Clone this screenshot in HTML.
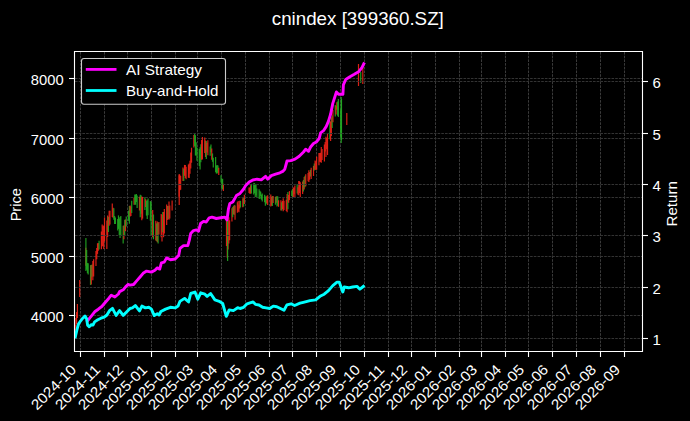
<!DOCTYPE html>
<html><head><meta charset="utf-8"><style>
html,body{margin:0;padding:0;background:#000;width:690px;height:421px;overflow:hidden;}
svg{display:block;font-family:"Liberation Sans",sans-serif;}
</style></head><body>
<svg width="690" height="421" viewBox="0 0 690 421">
<rect width="690" height="421" fill="#000"/>
<line x1="80.5" y1="52" x2="80.5" y2="351" stroke="#3a3a3a" stroke-width="1" stroke-dasharray="2.6,1.1"/>
<line x1="104.5" y1="52" x2="104.5" y2="351" stroke="#3a3a3a" stroke-width="1" stroke-dasharray="2.6,1.1"/>
<line x1="127.5" y1="52" x2="127.5" y2="351" stroke="#3a3a3a" stroke-width="1" stroke-dasharray="2.6,1.1"/>
<line x1="151.5" y1="52" x2="151.5" y2="351" stroke="#3a3a3a" stroke-width="1" stroke-dasharray="2.6,1.1"/>
<line x1="175.5" y1="52" x2="175.5" y2="351" stroke="#3a3a3a" stroke-width="1" stroke-dasharray="2.6,1.1"/>
<line x1="197.5" y1="52" x2="197.5" y2="351" stroke="#3a3a3a" stroke-width="1" stroke-dasharray="2.6,1.1"/>
<line x1="221.5" y1="52" x2="221.5" y2="351" stroke="#3a3a3a" stroke-width="1" stroke-dasharray="2.6,1.1"/>
<line x1="245.5" y1="52" x2="245.5" y2="351" stroke="#3a3a3a" stroke-width="1" stroke-dasharray="2.6,1.1"/>
<line x1="269.5" y1="52" x2="269.5" y2="351" stroke="#3a3a3a" stroke-width="1" stroke-dasharray="2.6,1.1"/>
<line x1="292.5" y1="52" x2="292.5" y2="351" stroke="#3a3a3a" stroke-width="1" stroke-dasharray="2.6,1.1"/>
<line x1="316.5" y1="52" x2="316.5" y2="351" stroke="#3a3a3a" stroke-width="1" stroke-dasharray="2.6,1.1"/>
<line x1="340.5" y1="52" x2="340.5" y2="351" stroke="#3a3a3a" stroke-width="1" stroke-dasharray="2.6,1.1"/>
<line x1="364.5" y1="52" x2="364.5" y2="351" stroke="#3a3a3a" stroke-width="1" stroke-dasharray="2.6,1.1"/>
<line x1="388.5" y1="52" x2="388.5" y2="351" stroke="#3a3a3a" stroke-width="1" stroke-dasharray="2.6,1.1"/>
<line x1="411.5" y1="52" x2="411.5" y2="351" stroke="#3a3a3a" stroke-width="1" stroke-dasharray="2.6,1.1"/>
<line x1="435.5" y1="52" x2="435.5" y2="351" stroke="#3a3a3a" stroke-width="1" stroke-dasharray="2.6,1.1"/>
<line x1="459.5" y1="52" x2="459.5" y2="351" stroke="#3a3a3a" stroke-width="1" stroke-dasharray="2.6,1.1"/>
<line x1="481.5" y1="52" x2="481.5" y2="351" stroke="#3a3a3a" stroke-width="1" stroke-dasharray="2.6,1.1"/>
<line x1="505.5" y1="52" x2="505.5" y2="351" stroke="#3a3a3a" stroke-width="1" stroke-dasharray="2.6,1.1"/>
<line x1="528.5" y1="52" x2="528.5" y2="351" stroke="#3a3a3a" stroke-width="1" stroke-dasharray="2.6,1.1"/>
<line x1="552.5" y1="52" x2="552.5" y2="351" stroke="#3a3a3a" stroke-width="1" stroke-dasharray="2.6,1.1"/>
<line x1="576.5" y1="52" x2="576.5" y2="351" stroke="#3a3a3a" stroke-width="1" stroke-dasharray="2.6,1.1"/>
<line x1="600.5" y1="52" x2="600.5" y2="351" stroke="#3a3a3a" stroke-width="1" stroke-dasharray="2.6,1.1"/>
<line x1="624.5" y1="52" x2="624.5" y2="351" stroke="#3a3a3a" stroke-width="1" stroke-dasharray="2.6,1.1"/>
<line x1="75" y1="315.5" x2="642" y2="315.5" stroke="#333333" stroke-width="1" stroke-dasharray="2.6,1.1"/>
<line x1="75" y1="256.5" x2="642" y2="256.5" stroke="#333333" stroke-width="1" stroke-dasharray="2.6,1.1"/>
<line x1="75" y1="197.5" x2="642" y2="197.5" stroke="#333333" stroke-width="1" stroke-dasharray="2.6,1.1"/>
<line x1="75" y1="138.5" x2="642" y2="138.5" stroke="#333333" stroke-width="1" stroke-dasharray="2.6,1.1"/>
<line x1="75" y1="78.5" x2="642" y2="78.5" stroke="#333333" stroke-width="1" stroke-dasharray="2.6,1.1"/>
<clipPath id="clip"><rect x="75" y="52" width="567" height="299"/></clipPath>
<g clip-path="url(#clip)">
<line x1="85.86" y1="247.8" x2="85.86" y2="265.8" stroke="#f02418" stroke-width="1.2" stroke-opacity="0.9"/>
<line x1="86.64" y1="250.0" x2="86.64" y2="269.8" stroke="#22a822" stroke-width="1.2" stroke-opacity="0.9"/>
<line x1="87.41" y1="263.1" x2="87.41" y2="273.3" stroke="#22a822" stroke-width="1.2" stroke-opacity="0.9"/>
<line x1="88.19" y1="263.3" x2="88.19" y2="274.4" stroke="#22a822" stroke-width="1.2" stroke-opacity="0.9"/>
<line x1="90.52" y1="265.1" x2="90.52" y2="285.0" stroke="#22a822" stroke-width="1.2" stroke-opacity="0.9"/>
<line x1="91.30" y1="265.1" x2="91.30" y2="284.5" stroke="#f02418" stroke-width="1.2" stroke-opacity="0.9"/>
<line x1="92.08" y1="264.4" x2="92.08" y2="276.8" stroke="#22a822" stroke-width="1.2" stroke-opacity="0.9"/>
<line x1="92.85" y1="260.9" x2="92.85" y2="280.2" stroke="#f02418" stroke-width="1.2" stroke-opacity="0.9"/>
<line x1="93.63" y1="259.2" x2="93.63" y2="276.5" stroke="#f02418" stroke-width="1.2" stroke-opacity="0.9"/>
<line x1="95.96" y1="251.0" x2="95.96" y2="266.0" stroke="#f02418" stroke-width="1.2" stroke-opacity="0.9"/>
<line x1="96.74" y1="247.9" x2="96.74" y2="259.2" stroke="#f02418" stroke-width="1.2" stroke-opacity="0.9"/>
<line x1="97.51" y1="243.3" x2="97.51" y2="253.9" stroke="#f02418" stroke-width="1.2" stroke-opacity="0.9"/>
<line x1="98.29" y1="243.1" x2="98.29" y2="250.7" stroke="#f02418" stroke-width="1.2" stroke-opacity="0.9"/>
<line x1="99.07" y1="240.7" x2="99.07" y2="249.5" stroke="#22a822" stroke-width="1.2" stroke-opacity="0.9"/>
<line x1="101.40" y1="231.6" x2="101.40" y2="249.3" stroke="#f02418" stroke-width="1.2" stroke-opacity="0.9"/>
<line x1="102.18" y1="224.5" x2="102.18" y2="246.3" stroke="#f02418" stroke-width="1.2" stroke-opacity="0.9"/>
<line x1="102.95" y1="226.2" x2="102.95" y2="246.2" stroke="#f02418" stroke-width="1.2" stroke-opacity="0.9"/>
<line x1="103.73" y1="225.6" x2="103.73" y2="249.0" stroke="#f02418" stroke-width="1.2" stroke-opacity="0.9"/>
<line x1="104.51" y1="217.5" x2="104.51" y2="241.4" stroke="#f02418" stroke-width="1.2" stroke-opacity="0.9"/>
<line x1="106.84" y1="220.5" x2="106.84" y2="249.0" stroke="#f02418" stroke-width="1.2" stroke-opacity="0.9"/>
<line x1="107.62" y1="215.4" x2="107.62" y2="237.0" stroke="#f02418" stroke-width="1.2" stroke-opacity="0.9"/>
<line x1="108.39" y1="216.8" x2="108.39" y2="232.1" stroke="#22a822" stroke-width="1.2" stroke-opacity="0.9"/>
<line x1="109.17" y1="210.7" x2="109.17" y2="225.8" stroke="#f02418" stroke-width="1.2" stroke-opacity="0.9"/>
<line x1="109.95" y1="210.8" x2="109.95" y2="224.4" stroke="#f02418" stroke-width="1.2" stroke-opacity="0.9"/>
<line x1="112.28" y1="203.6" x2="112.28" y2="216.9" stroke="#f02418" stroke-width="1.2" stroke-opacity="0.9"/>
<line x1="113.05" y1="207.8" x2="113.05" y2="217.8" stroke="#f02418" stroke-width="1.2" stroke-opacity="0.9"/>
<line x1="113.83" y1="208.2" x2="113.83" y2="219.8" stroke="#22a822" stroke-width="1.2" stroke-opacity="0.9"/>
<line x1="114.61" y1="215.9" x2="114.61" y2="223.9" stroke="#22a822" stroke-width="1.2" stroke-opacity="0.9"/>
<line x1="115.39" y1="217.6" x2="115.39" y2="224.0" stroke="#22a822" stroke-width="1.2" stroke-opacity="0.9"/>
<line x1="117.72" y1="219.1" x2="117.72" y2="230.5" stroke="#22a822" stroke-width="1.2" stroke-opacity="0.9"/>
<line x1="118.49" y1="215.4" x2="118.49" y2="228.9" stroke="#22a822" stroke-width="1.2" stroke-opacity="0.9"/>
<line x1="119.27" y1="218.5" x2="119.27" y2="235.1" stroke="#22a822" stroke-width="1.2" stroke-opacity="0.9"/>
<line x1="120.05" y1="217.1" x2="120.05" y2="237.9" stroke="#22a822" stroke-width="1.2" stroke-opacity="0.9"/>
<line x1="120.82" y1="216.1" x2="120.82" y2="235.2" stroke="#22a822" stroke-width="1.2" stroke-opacity="0.9"/>
<line x1="123.16" y1="225.7" x2="123.16" y2="243.4" stroke="#22a822" stroke-width="1.2" stroke-opacity="0.9"/>
<line x1="123.93" y1="225.6" x2="123.93" y2="239.2" stroke="#f02418" stroke-width="1.2" stroke-opacity="0.9"/>
<line x1="124.71" y1="219.8" x2="124.71" y2="235.6" stroke="#22a822" stroke-width="1.2" stroke-opacity="0.9"/>
<line x1="125.49" y1="219.5" x2="125.49" y2="231.2" stroke="#f02418" stroke-width="1.2" stroke-opacity="0.9"/>
<line x1="126.26" y1="216.6" x2="126.26" y2="226.6" stroke="#22a822" stroke-width="1.2" stroke-opacity="0.9"/>
<line x1="128.59" y1="210.7" x2="128.59" y2="220.9" stroke="#22a822" stroke-width="1.2" stroke-opacity="0.9"/>
<line x1="129.37" y1="206.1" x2="129.37" y2="223.7" stroke="#22a822" stroke-width="1.2" stroke-opacity="0.9"/>
<line x1="130.15" y1="205.4" x2="130.15" y2="216.4" stroke="#f02418" stroke-width="1.2" stroke-opacity="0.9"/>
<line x1="130.93" y1="206.6" x2="130.93" y2="216.0" stroke="#f02418" stroke-width="1.2" stroke-opacity="0.9"/>
<line x1="131.70" y1="200.7" x2="131.70" y2="213.0" stroke="#22a822" stroke-width="1.2" stroke-opacity="0.9"/>
<line x1="134.03" y1="197.5" x2="134.03" y2="204.7" stroke="#f02418" stroke-width="1.2" stroke-opacity="0.9"/>
<line x1="134.81" y1="194.4" x2="134.81" y2="204.8" stroke="#22a822" stroke-width="1.2" stroke-opacity="0.9"/>
<line x1="135.59" y1="194.6" x2="135.59" y2="204.7" stroke="#22a822" stroke-width="1.2" stroke-opacity="0.9"/>
<line x1="136.36" y1="193.9" x2="136.36" y2="202.1" stroke="#22a822" stroke-width="1.2" stroke-opacity="0.9"/>
<line x1="137.14" y1="195.6" x2="137.14" y2="208.1" stroke="#22a822" stroke-width="1.2" stroke-opacity="0.9"/>
<line x1="139.47" y1="196.7" x2="139.47" y2="210.5" stroke="#f02418" stroke-width="1.2" stroke-opacity="0.9"/>
<line x1="140.25" y1="194.8" x2="140.25" y2="217.3" stroke="#22a822" stroke-width="1.2" stroke-opacity="0.9"/>
<line x1="141.03" y1="195.3" x2="141.03" y2="213.7" stroke="#22a822" stroke-width="1.2" stroke-opacity="0.9"/>
<line x1="141.80" y1="196.4" x2="141.80" y2="220.3" stroke="#f02418" stroke-width="1.2" stroke-opacity="0.9"/>
<line x1="142.58" y1="197.0" x2="142.58" y2="218.6" stroke="#f02418" stroke-width="1.2" stroke-opacity="0.9"/>
<line x1="144.91" y1="197.3" x2="144.91" y2="210.1" stroke="#22a822" stroke-width="1.2" stroke-opacity="0.9"/>
<line x1="145.69" y1="199.3" x2="145.69" y2="206.9" stroke="#f02418" stroke-width="1.2" stroke-opacity="0.9"/>
<line x1="146.47" y1="200.7" x2="146.47" y2="215.6" stroke="#22a822" stroke-width="1.2" stroke-opacity="0.9"/>
<line x1="147.24" y1="200.3" x2="147.24" y2="218.9" stroke="#22a822" stroke-width="1.2" stroke-opacity="0.9"/>
<line x1="148.02" y1="198.6" x2="148.02" y2="215.2" stroke="#22a822" stroke-width="1.2" stroke-opacity="0.9"/>
<line x1="150.35" y1="200.9" x2="150.35" y2="220.7" stroke="#22a822" stroke-width="1.2" stroke-opacity="0.9"/>
<line x1="151.13" y1="202.0" x2="151.13" y2="235.3" stroke="#22a822" stroke-width="1.2" stroke-opacity="0.9"/>
<line x1="152.68" y1="210.1" x2="152.68" y2="237.3" stroke="#f02418" stroke-width="1.2" stroke-opacity="0.9"/>
<line x1="153.46" y1="214.5" x2="153.46" y2="239.3" stroke="#22a822" stroke-width="1.2" stroke-opacity="0.9"/>
<line x1="155.79" y1="220.8" x2="155.79" y2="240.5" stroke="#f02418" stroke-width="1.2" stroke-opacity="0.9"/>
<line x1="156.57" y1="223.4" x2="156.57" y2="241.2" stroke="#22a822" stroke-width="1.2" stroke-opacity="0.9"/>
<line x1="157.34" y1="221.6" x2="157.34" y2="242.3" stroke="#f02418" stroke-width="1.2" stroke-opacity="0.9"/>
<line x1="158.12" y1="222.5" x2="158.12" y2="243.4" stroke="#22a822" stroke-width="1.2" stroke-opacity="0.9"/>
<line x1="158.90" y1="222.0" x2="158.90" y2="234.6" stroke="#f02418" stroke-width="1.2" stroke-opacity="0.9"/>
<line x1="161.23" y1="214.1" x2="161.23" y2="237.2" stroke="#f02418" stroke-width="1.2" stroke-opacity="0.9"/>
<line x1="162.00" y1="214.9" x2="162.00" y2="241.4" stroke="#f02418" stroke-width="1.2" stroke-opacity="0.9"/>
<line x1="162.78" y1="212.0" x2="162.78" y2="232.3" stroke="#22a822" stroke-width="1.2" stroke-opacity="0.9"/>
<line x1="163.56" y1="212.0" x2="163.56" y2="237.2" stroke="#f02418" stroke-width="1.2" stroke-opacity="0.9"/>
<line x1="164.34" y1="209.1" x2="164.34" y2="233.4" stroke="#f02418" stroke-width="1.2" stroke-opacity="0.9"/>
<line x1="166.67" y1="204.4" x2="166.67" y2="224.9" stroke="#f02418" stroke-width="1.2" stroke-opacity="0.9"/>
<line x1="167.44" y1="205.9" x2="167.44" y2="219.9" stroke="#f02418" stroke-width="1.2" stroke-opacity="0.9"/>
<line x1="168.22" y1="206.0" x2="168.22" y2="219.0" stroke="#22a822" stroke-width="1.2" stroke-opacity="0.9"/>
<line x1="169.00" y1="201.6" x2="169.00" y2="219.7" stroke="#f02418" stroke-width="1.2" stroke-opacity="0.9"/>
<line x1="169.78" y1="205.5" x2="169.78" y2="218.6" stroke="#f02418" stroke-width="1.2" stroke-opacity="0.9"/>
<line x1="172.11" y1="200.4" x2="172.11" y2="210.4" stroke="#f02418" stroke-width="1.2" stroke-opacity="0.9"/>
<line x1="179.10" y1="175.2" x2="179.10" y2="196.8" stroke="#f02418" stroke-width="1.2" stroke-opacity="0.9"/>
<line x1="179.88" y1="174.7" x2="179.88" y2="190.2" stroke="#f02418" stroke-width="1.2" stroke-opacity="0.9"/>
<line x1="180.65" y1="176.0" x2="180.65" y2="189.7" stroke="#f02418" stroke-width="1.2" stroke-opacity="0.9"/>
<line x1="182.98" y1="167.6" x2="182.98" y2="181.1" stroke="#f02418" stroke-width="1.2" stroke-opacity="0.9"/>
<line x1="183.76" y1="168.7" x2="183.76" y2="180.9" stroke="#22a822" stroke-width="1.2" stroke-opacity="0.9"/>
<line x1="184.54" y1="164.9" x2="184.54" y2="175.8" stroke="#f02418" stroke-width="1.2" stroke-opacity="0.9"/>
<line x1="185.31" y1="165.0" x2="185.31" y2="177.9" stroke="#f02418" stroke-width="1.2" stroke-opacity="0.9"/>
<line x1="186.09" y1="166.7" x2="186.09" y2="179.3" stroke="#f02418" stroke-width="1.2" stroke-opacity="0.9"/>
<line x1="188.42" y1="164.5" x2="188.42" y2="177.7" stroke="#f02418" stroke-width="1.2" stroke-opacity="0.9"/>
<line x1="189.20" y1="163.6" x2="189.20" y2="177.9" stroke="#f02418" stroke-width="1.2" stroke-opacity="0.9"/>
<line x1="189.98" y1="160.8" x2="189.98" y2="173.8" stroke="#f02418" stroke-width="1.2" stroke-opacity="0.9"/>
<line x1="190.75" y1="152.5" x2="190.75" y2="168.5" stroke="#f02418" stroke-width="1.2" stroke-opacity="0.9"/>
<line x1="191.53" y1="147.7" x2="191.53" y2="162.7" stroke="#f02418" stroke-width="1.2" stroke-opacity="0.9"/>
<line x1="193.86" y1="135.1" x2="193.86" y2="147.6" stroke="#f02418" stroke-width="1.2" stroke-opacity="0.9"/>
<line x1="194.64" y1="133.8" x2="194.64" y2="146.2" stroke="#22a822" stroke-width="1.2" stroke-opacity="0.9"/>
<line x1="195.42" y1="135.2" x2="195.42" y2="155.5" stroke="#22a822" stroke-width="1.2" stroke-opacity="0.9"/>
<line x1="196.19" y1="142.2" x2="196.19" y2="155.6" stroke="#22a822" stroke-width="1.2" stroke-opacity="0.9"/>
<line x1="196.97" y1="147.6" x2="196.97" y2="160.7" stroke="#22a822" stroke-width="1.2" stroke-opacity="0.9"/>
<line x1="199.30" y1="149.0" x2="199.30" y2="165.9" stroke="#22a822" stroke-width="1.2" stroke-opacity="0.9"/>
<line x1="200.08" y1="147.3" x2="200.08" y2="169.6" stroke="#22a822" stroke-width="1.2" stroke-opacity="0.9"/>
<line x1="200.86" y1="144.2" x2="200.86" y2="162.2" stroke="#22a822" stroke-width="1.2" stroke-opacity="0.9"/>
<line x1="201.63" y1="140.1" x2="201.63" y2="159.7" stroke="#f02418" stroke-width="1.2" stroke-opacity="0.9"/>
<line x1="202.41" y1="137.0" x2="202.41" y2="159.4" stroke="#f02418" stroke-width="1.2" stroke-opacity="0.9"/>
<line x1="204.74" y1="137.5" x2="204.74" y2="152.9" stroke="#f02418" stroke-width="1.2" stroke-opacity="0.9"/>
<line x1="205.52" y1="140.5" x2="205.52" y2="157.0" stroke="#f02418" stroke-width="1.2" stroke-opacity="0.9"/>
<line x1="206.29" y1="140.9" x2="206.29" y2="159.0" stroke="#22a822" stroke-width="1.2" stroke-opacity="0.9"/>
<line x1="207.07" y1="142.7" x2="207.07" y2="152.4" stroke="#f02418" stroke-width="1.2" stroke-opacity="0.9"/>
<line x1="207.85" y1="140.3" x2="207.85" y2="155.3" stroke="#f02418" stroke-width="1.2" stroke-opacity="0.9"/>
<line x1="210.18" y1="146.5" x2="210.18" y2="155.8" stroke="#22a822" stroke-width="1.2" stroke-opacity="0.9"/>
<line x1="210.96" y1="144.5" x2="210.96" y2="152.2" stroke="#22a822" stroke-width="1.2" stroke-opacity="0.9"/>
<line x1="211.73" y1="148.4" x2="211.73" y2="159.8" stroke="#f02418" stroke-width="1.2" stroke-opacity="0.9"/>
<line x1="212.51" y1="153.4" x2="212.51" y2="161.8" stroke="#22a822" stroke-width="1.2" stroke-opacity="0.9"/>
<line x1="213.29" y1="157.8" x2="213.29" y2="167.5" stroke="#22a822" stroke-width="1.2" stroke-opacity="0.9"/>
<line x1="215.62" y1="157.1" x2="215.62" y2="172.2" stroke="#22a822" stroke-width="1.2" stroke-opacity="0.9"/>
<line x1="216.39" y1="165.6" x2="216.39" y2="173.5" stroke="#22a822" stroke-width="1.2" stroke-opacity="0.9"/>
<line x1="217.17" y1="164.9" x2="217.17" y2="173.6" stroke="#22a822" stroke-width="1.2" stroke-opacity="0.9"/>
<line x1="217.95" y1="165.6" x2="217.95" y2="172.7" stroke="#22a822" stroke-width="1.2" stroke-opacity="0.9"/>
<line x1="218.73" y1="167.7" x2="218.73" y2="175.1" stroke="#f02418" stroke-width="1.2" stroke-opacity="0.9"/>
<line x1="221.06" y1="175.2" x2="221.06" y2="182.6" stroke="#22a822" stroke-width="1.2" stroke-opacity="0.9"/>
<line x1="221.83" y1="179.3" x2="221.83" y2="188.9" stroke="#22a822" stroke-width="1.2" stroke-opacity="0.9"/>
<line x1="222.61" y1="178.7" x2="222.61" y2="189.6" stroke="#22a822" stroke-width="1.2" stroke-opacity="0.9"/>
<line x1="223.39" y1="183.8" x2="223.39" y2="190.9" stroke="#f02418" stroke-width="1.2" stroke-opacity="0.9"/>
<line x1="226.50" y1="218.2" x2="226.50" y2="246.1" stroke="#f02418" stroke-width="1.2" stroke-opacity="0.9"/>
<line x1="227.27" y1="231.9" x2="227.27" y2="257.8" stroke="#f02418" stroke-width="1.2" stroke-opacity="0.9"/>
<line x1="228.05" y1="220.3" x2="228.05" y2="249.5" stroke="#f02418" stroke-width="1.2" stroke-opacity="0.9"/>
<line x1="228.83" y1="217.2" x2="228.83" y2="243.4" stroke="#f02418" stroke-width="1.2" stroke-opacity="0.9"/>
<line x1="229.60" y1="220.2" x2="229.60" y2="240.2" stroke="#f02418" stroke-width="1.2" stroke-opacity="0.9"/>
<line x1="231.94" y1="208.2" x2="231.94" y2="221.4" stroke="#f02418" stroke-width="1.2" stroke-opacity="0.9"/>
<line x1="232.71" y1="207.1" x2="232.71" y2="217.3" stroke="#22a822" stroke-width="1.2" stroke-opacity="0.9"/>
<line x1="233.49" y1="206.1" x2="233.49" y2="214.4" stroke="#f02418" stroke-width="1.2" stroke-opacity="0.9"/>
<line x1="234.27" y1="205.1" x2="234.27" y2="214.8" stroke="#22a822" stroke-width="1.2" stroke-opacity="0.9"/>
<line x1="235.04" y1="205.4" x2="235.04" y2="219.8" stroke="#f02418" stroke-width="1.2" stroke-opacity="0.9"/>
<line x1="237.37" y1="202.3" x2="237.37" y2="212.8" stroke="#f02418" stroke-width="1.2" stroke-opacity="0.9"/>
<line x1="238.15" y1="200.9" x2="238.15" y2="211.5" stroke="#f02418" stroke-width="1.2" stroke-opacity="0.9"/>
<line x1="238.93" y1="204.6" x2="238.93" y2="212.3" stroke="#f02418" stroke-width="1.2" stroke-opacity="0.9"/>
<line x1="239.70" y1="200.7" x2="239.70" y2="208.5" stroke="#f02418" stroke-width="1.2" stroke-opacity="0.9"/>
<line x1="240.48" y1="200.9" x2="240.48" y2="207.4" stroke="#22a822" stroke-width="1.2" stroke-opacity="0.9"/>
<line x1="242.81" y1="198.2" x2="242.81" y2="207.3" stroke="#f02418" stroke-width="1.2" stroke-opacity="0.9"/>
<line x1="243.59" y1="198.1" x2="243.59" y2="206.6" stroke="#22a822" stroke-width="1.2" stroke-opacity="0.9"/>
<line x1="244.37" y1="194.8" x2="244.37" y2="203.9" stroke="#f02418" stroke-width="1.2" stroke-opacity="0.9"/>
<line x1="249.03" y1="187.6" x2="249.03" y2="193.0" stroke="#f02418" stroke-width="1.2" stroke-opacity="0.9"/>
<line x1="249.81" y1="187.6" x2="249.81" y2="193.7" stroke="#f02418" stroke-width="1.2" stroke-opacity="0.9"/>
<line x1="250.58" y1="185.3" x2="250.58" y2="193.7" stroke="#f02418" stroke-width="1.2" stroke-opacity="0.9"/>
<line x1="251.36" y1="184.0" x2="251.36" y2="193.6" stroke="#22a822" stroke-width="1.2" stroke-opacity="0.9"/>
<line x1="253.69" y1="183.3" x2="253.69" y2="194.4" stroke="#22a822" stroke-width="1.2" stroke-opacity="0.9"/>
<line x1="254.47" y1="183.1" x2="254.47" y2="193.2" stroke="#22a822" stroke-width="1.2" stroke-opacity="0.9"/>
<line x1="255.25" y1="184.6" x2="255.25" y2="196.9" stroke="#22a822" stroke-width="1.2" stroke-opacity="0.9"/>
<line x1="256.02" y1="184.3" x2="256.02" y2="195.2" stroke="#22a822" stroke-width="1.2" stroke-opacity="0.9"/>
<line x1="256.80" y1="188.4" x2="256.80" y2="197.3" stroke="#22a822" stroke-width="1.2" stroke-opacity="0.9"/>
<line x1="259.13" y1="189.2" x2="259.13" y2="198.7" stroke="#22a822" stroke-width="1.2" stroke-opacity="0.9"/>
<line x1="259.91" y1="190.8" x2="259.91" y2="199.1" stroke="#22a822" stroke-width="1.2" stroke-opacity="0.9"/>
<line x1="260.68" y1="191.7" x2="260.68" y2="196.3" stroke="#22a822" stroke-width="1.2" stroke-opacity="0.9"/>
<line x1="261.46" y1="194.6" x2="261.46" y2="199.7" stroke="#22a822" stroke-width="1.2" stroke-opacity="0.9"/>
<line x1="262.24" y1="193.6" x2="262.24" y2="201.5" stroke="#22a822" stroke-width="1.2" stroke-opacity="0.9"/>
<line x1="264.57" y1="194.8" x2="264.57" y2="202.3" stroke="#22a822" stroke-width="1.2" stroke-opacity="0.9"/>
<line x1="265.35" y1="196.7" x2="265.35" y2="205.7" stroke="#22a822" stroke-width="1.2" stroke-opacity="0.9"/>
<line x1="266.12" y1="195.8" x2="266.12" y2="204.3" stroke="#22a822" stroke-width="1.2" stroke-opacity="0.9"/>
<line x1="266.90" y1="196.5" x2="266.90" y2="203.1" stroke="#f02418" stroke-width="1.2" stroke-opacity="0.9"/>
<line x1="267.68" y1="195.3" x2="267.68" y2="204.9" stroke="#f02418" stroke-width="1.2" stroke-opacity="0.9"/>
<line x1="270.79" y1="194.5" x2="270.79" y2="206.6" stroke="#f02418" stroke-width="1.2" stroke-opacity="0.9"/>
<line x1="271.56" y1="196.7" x2="271.56" y2="205.7" stroke="#f02418" stroke-width="1.2" stroke-opacity="0.9"/>
<line x1="272.34" y1="196.1" x2="272.34" y2="206.0" stroke="#22a822" stroke-width="1.2" stroke-opacity="0.9"/>
<line x1="273.12" y1="196.1" x2="273.12" y2="202.9" stroke="#f02418" stroke-width="1.2" stroke-opacity="0.9"/>
<line x1="275.45" y1="196.8" x2="275.45" y2="204.7" stroke="#22a822" stroke-width="1.2" stroke-opacity="0.9"/>
<line x1="276.22" y1="196.5" x2="276.22" y2="202.7" stroke="#f02418" stroke-width="1.2" stroke-opacity="0.9"/>
<line x1="277.00" y1="196.0" x2="277.00" y2="206.4" stroke="#22a822" stroke-width="1.2" stroke-opacity="0.9"/>
<line x1="277.78" y1="196.6" x2="277.78" y2="205.7" stroke="#22a822" stroke-width="1.2" stroke-opacity="0.9"/>
<line x1="278.56" y1="200.3" x2="278.56" y2="206.8" stroke="#f02418" stroke-width="1.2" stroke-opacity="0.9"/>
<line x1="280.89" y1="200.3" x2="280.89" y2="210.6" stroke="#f02418" stroke-width="1.2" stroke-opacity="0.9"/>
<line x1="281.66" y1="202.3" x2="281.66" y2="210.5" stroke="#22a822" stroke-width="1.2" stroke-opacity="0.9"/>
<line x1="282.44" y1="201.0" x2="282.44" y2="209.2" stroke="#f02418" stroke-width="1.2" stroke-opacity="0.9"/>
<line x1="283.22" y1="198.2" x2="283.22" y2="211.2" stroke="#f02418" stroke-width="1.2" stroke-opacity="0.9"/>
<line x1="283.99" y1="200.8" x2="283.99" y2="210.0" stroke="#f02418" stroke-width="1.2" stroke-opacity="0.9"/>
<line x1="286.32" y1="199.7" x2="286.32" y2="210.9" stroke="#f02418" stroke-width="1.2" stroke-opacity="0.9"/>
<line x1="287.10" y1="194.1" x2="287.10" y2="212.2" stroke="#f02418" stroke-width="1.2" stroke-opacity="0.9"/>
<line x1="287.88" y1="192.0" x2="287.88" y2="209.2" stroke="#22a822" stroke-width="1.2" stroke-opacity="0.9"/>
<line x1="288.66" y1="195.1" x2="288.66" y2="202.8" stroke="#f02418" stroke-width="1.2" stroke-opacity="0.9"/>
<line x1="289.43" y1="191.1" x2="289.43" y2="200.1" stroke="#f02418" stroke-width="1.2" stroke-opacity="0.9"/>
<line x1="291.76" y1="190.5" x2="291.76" y2="196.1" stroke="#22a822" stroke-width="1.2" stroke-opacity="0.9"/>
<line x1="292.54" y1="188.9" x2="292.54" y2="197.0" stroke="#22a822" stroke-width="1.2" stroke-opacity="0.9"/>
<line x1="293.32" y1="187.4" x2="293.32" y2="197.0" stroke="#f02418" stroke-width="1.2" stroke-opacity="0.9"/>
<line x1="294.10" y1="187.4" x2="294.10" y2="194.2" stroke="#f02418" stroke-width="1.2" stroke-opacity="0.9"/>
<line x1="294.87" y1="185.4" x2="294.87" y2="197.0" stroke="#f02418" stroke-width="1.2" stroke-opacity="0.9"/>
<line x1="297.20" y1="184.0" x2="297.20" y2="193.6" stroke="#22a822" stroke-width="1.2" stroke-opacity="0.9"/>
<line x1="297.98" y1="187.2" x2="297.98" y2="194.7" stroke="#f02418" stroke-width="1.2" stroke-opacity="0.9"/>
<line x1="298.76" y1="181.1" x2="298.76" y2="195.2" stroke="#f02418" stroke-width="1.2" stroke-opacity="0.9"/>
<line x1="299.53" y1="181.3" x2="299.53" y2="193.0" stroke="#f02418" stroke-width="1.2" stroke-opacity="0.9"/>
<line x1="300.31" y1="182.3" x2="300.31" y2="197.0" stroke="#f02418" stroke-width="1.2" stroke-opacity="0.9"/>
<line x1="302.64" y1="181.4" x2="302.64" y2="194.0" stroke="#f02418" stroke-width="1.2" stroke-opacity="0.9"/>
<line x1="303.42" y1="179.9" x2="303.42" y2="191.5" stroke="#22a822" stroke-width="1.2" stroke-opacity="0.9"/>
<line x1="304.20" y1="177.0" x2="304.20" y2="189.6" stroke="#f02418" stroke-width="1.2" stroke-opacity="0.9"/>
<line x1="304.97" y1="175.8" x2="304.97" y2="187.2" stroke="#22a822" stroke-width="1.2" stroke-opacity="0.9"/>
<line x1="305.75" y1="174.2" x2="305.75" y2="186.2" stroke="#f02418" stroke-width="1.2" stroke-opacity="0.9"/>
<line x1="308.08" y1="173.0" x2="308.08" y2="181.3" stroke="#f02418" stroke-width="1.2" stroke-opacity="0.9"/>
<line x1="308.86" y1="170.2" x2="308.86" y2="182.0" stroke="#f02418" stroke-width="1.2" stroke-opacity="0.9"/>
<line x1="309.63" y1="172.0" x2="309.63" y2="179.8" stroke="#f02418" stroke-width="1.2" stroke-opacity="0.9"/>
<line x1="310.41" y1="169.8" x2="310.41" y2="176.6" stroke="#22a822" stroke-width="1.2" stroke-opacity="0.9"/>
<line x1="311.19" y1="167.7" x2="311.19" y2="179.0" stroke="#f02418" stroke-width="1.2" stroke-opacity="0.9"/>
<line x1="313.52" y1="165.8" x2="313.52" y2="176.0" stroke="#f02418" stroke-width="1.2" stroke-opacity="0.9"/>
<line x1="314.30" y1="163.4" x2="314.30" y2="170.4" stroke="#22a822" stroke-width="1.2" stroke-opacity="0.9"/>
<line x1="315.07" y1="160.5" x2="315.07" y2="169.4" stroke="#f02418" stroke-width="1.2" stroke-opacity="0.9"/>
<line x1="315.85" y1="161.2" x2="315.85" y2="169.9" stroke="#f02418" stroke-width="1.2" stroke-opacity="0.9"/>
<line x1="316.63" y1="156.8" x2="316.63" y2="169.8" stroke="#f02418" stroke-width="1.2" stroke-opacity="0.9"/>
<line x1="318.96" y1="152.9" x2="318.96" y2="165.3" stroke="#f02418" stroke-width="1.2" stroke-opacity="0.9"/>
<line x1="319.74" y1="153.1" x2="319.74" y2="161.7" stroke="#f02418" stroke-width="1.2" stroke-opacity="0.9"/>
<line x1="320.51" y1="152.8" x2="320.51" y2="162.1" stroke="#f02418" stroke-width="1.2" stroke-opacity="0.9"/>
<line x1="321.29" y1="147.0" x2="321.29" y2="162.8" stroke="#f02418" stroke-width="1.2" stroke-opacity="0.9"/>
<line x1="322.07" y1="149.1" x2="322.07" y2="159.9" stroke="#f02418" stroke-width="1.2" stroke-opacity="0.9"/>
<line x1="324.40" y1="144.5" x2="324.40" y2="161.5" stroke="#f02418" stroke-width="1.2" stroke-opacity="0.9"/>
<line x1="325.18" y1="142.0" x2="325.18" y2="151.6" stroke="#f02418" stroke-width="1.2" stroke-opacity="0.9"/>
<line x1="325.95" y1="136.7" x2="325.95" y2="157.1" stroke="#f02418" stroke-width="1.2" stroke-opacity="0.9"/>
<line x1="326.73" y1="138.1" x2="326.73" y2="149.2" stroke="#f02418" stroke-width="1.2" stroke-opacity="0.9"/>
<line x1="327.51" y1="133.2" x2="327.51" y2="155.0" stroke="#f02418" stroke-width="1.2" stroke-opacity="0.9"/>
<line x1="329.84" y1="120.9" x2="329.84" y2="139.2" stroke="#22a822" stroke-width="1.2" stroke-opacity="0.9"/>
<line x1="330.61" y1="121.4" x2="330.61" y2="140.9" stroke="#f02418" stroke-width="1.2" stroke-opacity="0.9"/>
<line x1="331.39" y1="117.2" x2="331.39" y2="135.9" stroke="#f02418" stroke-width="1.2" stroke-opacity="0.9"/>
<line x1="332.17" y1="115.4" x2="332.17" y2="128.0" stroke="#22a822" stroke-width="1.2" stroke-opacity="0.9"/>
<line x1="332.94" y1="110.1" x2="332.94" y2="122.2" stroke="#f02418" stroke-width="1.2" stroke-opacity="0.9"/>
<line x1="335.28" y1="105.1" x2="335.28" y2="116.4" stroke="#22a822" stroke-width="1.2" stroke-opacity="0.9"/>
<line x1="336.05" y1="106.1" x2="336.05" y2="114.6" stroke="#f02418" stroke-width="1.2" stroke-opacity="0.9"/>
<line x1="336.83" y1="102.2" x2="336.83" y2="109.8" stroke="#f02418" stroke-width="1.2" stroke-opacity="0.9"/>
<line x1="337.61" y1="101.4" x2="337.61" y2="115.7" stroke="#22a822" stroke-width="1.2" stroke-opacity="0.9"/>
<line x1="338.38" y1="99.1" x2="338.38" y2="116.9" stroke="#22a822" stroke-width="1.2" stroke-opacity="0.9"/>
<line x1="340.72" y1="109.6" x2="340.72" y2="137.2" stroke="#22a822" stroke-width="1.2" stroke-opacity="0.9"/>
<line x1="341.49" y1="99.1" x2="341.49" y2="140.1" stroke="#22a822" stroke-width="1.2" stroke-opacity="0.9"/>
<line x1="346.80" y1="113.0" x2="346.80" y2="125.0" stroke="#f02418" stroke-width="1.2" stroke-opacity="0.9"/>
<line x1="75.10" y1="325.0" x2="75.10" y2="336.0" stroke="#f02418" stroke-width="1.2" stroke-opacity="0.9"/>
<line x1="75.90" y1="318.0" x2="75.90" y2="330.0" stroke="#f02418" stroke-width="1.2" stroke-opacity="0.9"/>
<line x1="76.60" y1="312.0" x2="76.60" y2="324.0" stroke="#f02418" stroke-width="1.2" stroke-opacity="0.9"/>
<line x1="77.40" y1="304.0" x2="77.40" y2="318.0" stroke="#f02418" stroke-width="1.2" stroke-opacity="0.9"/>
<line x1="79.70" y1="280.0" x2="79.70" y2="297.0" stroke="#f02418" stroke-width="1.2" stroke-opacity="0.9"/>
<line x1="179.20" y1="174.0" x2="179.20" y2="205.0" stroke="#f02418" stroke-width="1.2" stroke-opacity="0.9"/>
<line x1="85.90" y1="238.0" x2="85.90" y2="271.0" stroke="#22a822" stroke-width="1.2" stroke-opacity="0.9"/>
<line x1="227.60" y1="221.0" x2="227.60" y2="261.0" stroke="#22a822" stroke-width="1.2" stroke-opacity="0.9"/>
<line x1="341.20" y1="97.0" x2="341.20" y2="143.0" stroke="#22a822" stroke-width="1.2" stroke-opacity="0.9"/>
<line x1="358.50" y1="64.0" x2="358.50" y2="86.0" stroke="#f02418" stroke-width="1.2" stroke-opacity="0.9"/>
<line x1="360.70" y1="72.0" x2="360.70" y2="83.0" stroke="#22a822" stroke-width="1.2" stroke-opacity="0.9"/>
<line x1="362.80" y1="64.0" x2="362.80" y2="84.0" stroke="#f02418" stroke-width="1.2" stroke-opacity="0.9"/>
</g>
<line x1="75" y1="338.5" x2="642" y2="338.5" stroke="#333333" stroke-width="1" stroke-dasharray="2.6,1.1"/>
<line x1="75" y1="287.5" x2="642" y2="287.5" stroke="#333333" stroke-width="1" stroke-dasharray="2.6,1.1"/>
<line x1="75" y1="235.5" x2="642" y2="235.5" stroke="#333333" stroke-width="1" stroke-dasharray="2.6,1.1"/>
<line x1="75" y1="184.5" x2="642" y2="184.5" stroke="#333333" stroke-width="1" stroke-dasharray="2.6,1.1"/>
<line x1="75" y1="133.5" x2="642" y2="133.5" stroke="#333333" stroke-width="1" stroke-dasharray="2.6,1.1"/>
<line x1="75" y1="81.5" x2="642" y2="81.5" stroke="#333333" stroke-width="1" stroke-dasharray="2.6,1.1"/>
<g clip-path="url(#clip)">
<polyline points="87.6,320.7 91.1,316.4 94.7,311.8 98.3,309.2 101.8,306.5 105.4,302.3 108.9,298.2 111.3,295.2 114.9,297.0 118.4,294.0 119.6,291.6 123.2,289.8 125.6,286.9 128.0,284.5 130.0,285.1 133.6,284.5 137.1,280.4 140.7,276.2 143.1,273.3 146.6,271.1 151.4,272.1 154.9,270.3 157.3,267.9 159.7,269.1 161.4,262.8 164.2,262.1 166.6,257.9 170.4,259.8 175.1,259.0 178.7,255.4 180.0,248.4 183.5,245.6 187.8,245.6 189.2,240.6 190.7,233.5 193.5,230.6 196.4,229.9 198.5,231.3 200.6,223.5 203.5,221.4 206.3,222.0 209.2,217.8 212.0,217.1 216.3,218.5 220.6,217.8 224.9,217.1 227.0,219.9 228.4,209.2 229.8,203.5 232.8,202.0 236.4,195.6 240.0,193.4 243.5,189.2 245.7,185.6 249.2,182.0 252.8,180.0 257.0,179.2 261.3,179.9 265.6,176.4 267.7,179.2 271.3,175.6 275.6,174.2 279.9,172.8 282.7,171.4 284.8,169.2 287.0,161.0 290.7,160.6 295.0,159.1 299.2,156.3 303.5,152.0 305.7,149.2 308.5,151.3 310.6,147.0 313.5,143.5 316.3,142.0 319.2,138.5 320.6,132.8 323.5,130.7 326.3,126.4 328.4,121.4 330.6,114.3 332.8,103.4 336.4,92.0 338.5,94.2 340.6,94.3 342.9,94.3 343.4,84.8 345.7,79.5 349.5,77.1 354.3,74.3 359.0,71.4 361.9,67.6 363.8,63.8" fill="none" stroke="#ff00ff" stroke-width="2.9" stroke-linejoin="round" stroke-linecap="square"/>
<polyline points="75.3,336.9 76.9,329.9 78.5,324.0 80.7,320.8 82.8,318.2 85.0,316.0 86.6,318.7 87.6,325.1 89.2,326.7 91.4,324.6 93.0,325.1 94.6,321.9 97.8,319.8 101.0,318.2 104.2,317.1 106.9,315.0 109.5,310.7 112.5,308.3 116.1,315.4 119.6,310.6 123.2,315.4 126.8,311.8 130.0,308.5 132.4,307.9 135.3,305.5 139.5,310.9 141.9,306.1 145.4,307.9 149.0,307.3 151.4,309.1 154.3,315.6 157.3,313.8 159.1,315.0 160.9,311.5 165.6,309.1 170.4,307.3 175.1,307.9 178.1,306.1 179.9,301.4 184.6,298.4 188.6,302.0 190.7,293.5 195.0,292.1 197.8,299.2 200.7,292.8 204.9,294.2 207.1,296.4 210.6,293.5 214.9,299.9 219.2,301.3 222.7,303.5 226.3,316.3 229.2,309.9 233.4,310.6 237.7,307.7 240.0,308.5 243.6,307.3 247.1,303.8 250.7,302.6 253.1,302.0 255.4,304.3 259.0,305.0 262.6,307.3 266.1,307.9 269.7,308.5 273.3,306.1 276.8,306.7 280.4,308.5 284.0,310.3 286.9,304.9 291.1,303.8 294.6,305.5 300.0,303.2 303.4,302.3 310.0,300.6 315.7,299.9 320.0,296.3 324.2,294.2 328.5,290.6 332.8,285.6 337.0,282.1 339.2,282.1 341.3,287.8 342.8,292.0 344.2,287.0 348.5,287.8 352.7,287.0 357.0,286.4 359.9,289.2 363.4,286.4" fill="none" stroke="#00ffff" stroke-width="2.9" stroke-linejoin="round" stroke-linecap="square"/>
</g>
<path d="M74.5 51.5H642.5V351.5H74.5Z" fill="none" stroke="#fff" stroke-width="1.1"/>
<line x1="69" y1="315.5" x2="74.5" y2="315.5" stroke="#fff" stroke-width="1.1"/>
<text x="63.6" y="321.6" font-family="Liberation Sans, sans-serif" font-size="14.4" fill="#fff" text-anchor="end" textLength="32.8" lengthAdjust="spacingAndGlyphs">4000</text>
<line x1="69" y1="256.5" x2="74.5" y2="256.5" stroke="#fff" stroke-width="1.1"/>
<text x="63.6" y="262.6" font-family="Liberation Sans, sans-serif" font-size="14.4" fill="#fff" text-anchor="end" textLength="32.8" lengthAdjust="spacingAndGlyphs">5000</text>
<line x1="69" y1="197.5" x2="74.5" y2="197.5" stroke="#fff" stroke-width="1.1"/>
<text x="63.6" y="203.6" font-family="Liberation Sans, sans-serif" font-size="14.4" fill="#fff" text-anchor="end" textLength="32.8" lengthAdjust="spacingAndGlyphs">6000</text>
<line x1="69" y1="138.5" x2="74.5" y2="138.5" stroke="#fff" stroke-width="1.1"/>
<text x="63.6" y="144.6" font-family="Liberation Sans, sans-serif" font-size="14.4" fill="#fff" text-anchor="end" textLength="32.8" lengthAdjust="spacingAndGlyphs">7000</text>
<line x1="69" y1="78.5" x2="74.5" y2="78.5" stroke="#fff" stroke-width="1.1"/>
<text x="63.6" y="84.6" font-family="Liberation Sans, sans-serif" font-size="14.4" fill="#fff" text-anchor="end" textLength="32.8" lengthAdjust="spacingAndGlyphs">8000</text>
<line x1="642.5" y1="338.5" x2="648" y2="338.5" stroke="#fff" stroke-width="1.1"/>
<text x="652.4" y="344.5" font-family="Liberation Sans, sans-serif" font-size="15" fill="#fff">1</text>
<line x1="642.5" y1="287.5" x2="648" y2="287.5" stroke="#fff" stroke-width="1.1"/>
<text x="652.4" y="293.5" font-family="Liberation Sans, sans-serif" font-size="15" fill="#fff">2</text>
<line x1="642.5" y1="235.5" x2="648" y2="235.5" stroke="#fff" stroke-width="1.1"/>
<text x="652.4" y="241.5" font-family="Liberation Sans, sans-serif" font-size="15" fill="#fff">3</text>
<line x1="642.5" y1="184.5" x2="648" y2="184.5" stroke="#fff" stroke-width="1.1"/>
<text x="652.4" y="190.5" font-family="Liberation Sans, sans-serif" font-size="15" fill="#fff">4</text>
<line x1="642.5" y1="133.5" x2="648" y2="133.5" stroke="#fff" stroke-width="1.1"/>
<text x="652.4" y="139.5" font-family="Liberation Sans, sans-serif" font-size="15" fill="#fff">5</text>
<line x1="642.5" y1="81.5" x2="648" y2="81.5" stroke="#fff" stroke-width="1.1"/>
<text x="652.4" y="87.5" font-family="Liberation Sans, sans-serif" font-size="15" fill="#fff">6</text>
<line x1="80.5" y1="351.5" x2="80.5" y2="357" stroke="#fff" stroke-width="1.1"/>
<text x="77.20" y="370.50" transform="rotate(-45 77.20 370.50)" font-family="Liberation Sans, sans-serif" font-size="14.4" fill="#fff" text-anchor="end" textLength="57" lengthAdjust="spacingAndGlyphs">2024-10</text>
<line x1="104.5" y1="351.5" x2="104.5" y2="357" stroke="#fff" stroke-width="1.1"/>
<text x="101.20" y="370.50" transform="rotate(-45 101.20 370.50)" font-family="Liberation Sans, sans-serif" font-size="14.4" fill="#fff" text-anchor="end" textLength="57" lengthAdjust="spacingAndGlyphs">2024-11</text>
<line x1="127.5" y1="351.5" x2="127.5" y2="357" stroke="#fff" stroke-width="1.1"/>
<text x="124.20" y="370.50" transform="rotate(-45 124.20 370.50)" font-family="Liberation Sans, sans-serif" font-size="14.4" fill="#fff" text-anchor="end" textLength="57" lengthAdjust="spacingAndGlyphs">2024-12</text>
<line x1="151.5" y1="351.5" x2="151.5" y2="357" stroke="#fff" stroke-width="1.1"/>
<text x="148.20" y="370.50" transform="rotate(-45 148.20 370.50)" font-family="Liberation Sans, sans-serif" font-size="14.4" fill="#fff" text-anchor="end" textLength="57" lengthAdjust="spacingAndGlyphs">2025-01</text>
<line x1="175.5" y1="351.5" x2="175.5" y2="357" stroke="#fff" stroke-width="1.1"/>
<text x="172.20" y="370.50" transform="rotate(-45 172.20 370.50)" font-family="Liberation Sans, sans-serif" font-size="14.4" fill="#fff" text-anchor="end" textLength="57" lengthAdjust="spacingAndGlyphs">2025-02</text>
<line x1="197.5" y1="351.5" x2="197.5" y2="357" stroke="#fff" stroke-width="1.1"/>
<text x="194.20" y="370.50" transform="rotate(-45 194.20 370.50)" font-family="Liberation Sans, sans-serif" font-size="14.4" fill="#fff" text-anchor="end" textLength="57" lengthAdjust="spacingAndGlyphs">2025-03</text>
<line x1="221.5" y1="351.5" x2="221.5" y2="357" stroke="#fff" stroke-width="1.1"/>
<text x="218.20" y="370.50" transform="rotate(-45 218.20 370.50)" font-family="Liberation Sans, sans-serif" font-size="14.4" fill="#fff" text-anchor="end" textLength="57" lengthAdjust="spacingAndGlyphs">2025-04</text>
<line x1="245.5" y1="351.5" x2="245.5" y2="357" stroke="#fff" stroke-width="1.1"/>
<text x="242.20" y="370.50" transform="rotate(-45 242.20 370.50)" font-family="Liberation Sans, sans-serif" font-size="14.4" fill="#fff" text-anchor="end" textLength="57" lengthAdjust="spacingAndGlyphs">2025-05</text>
<line x1="269.5" y1="351.5" x2="269.5" y2="357" stroke="#fff" stroke-width="1.1"/>
<text x="266.20" y="370.50" transform="rotate(-45 266.20 370.50)" font-family="Liberation Sans, sans-serif" font-size="14.4" fill="#fff" text-anchor="end" textLength="57" lengthAdjust="spacingAndGlyphs">2025-06</text>
<line x1="292.5" y1="351.5" x2="292.5" y2="357" stroke="#fff" stroke-width="1.1"/>
<text x="289.20" y="370.50" transform="rotate(-45 289.20 370.50)" font-family="Liberation Sans, sans-serif" font-size="14.4" fill="#fff" text-anchor="end" textLength="57" lengthAdjust="spacingAndGlyphs">2025-07</text>
<line x1="316.5" y1="351.5" x2="316.5" y2="357" stroke="#fff" stroke-width="1.1"/>
<text x="313.20" y="370.50" transform="rotate(-45 313.20 370.50)" font-family="Liberation Sans, sans-serif" font-size="14.4" fill="#fff" text-anchor="end" textLength="57" lengthAdjust="spacingAndGlyphs">2025-08</text>
<line x1="340.5" y1="351.5" x2="340.5" y2="357" stroke="#fff" stroke-width="1.1"/>
<text x="337.20" y="370.50" transform="rotate(-45 337.20 370.50)" font-family="Liberation Sans, sans-serif" font-size="14.4" fill="#fff" text-anchor="end" textLength="57" lengthAdjust="spacingAndGlyphs">2025-09</text>
<line x1="364.5" y1="351.5" x2="364.5" y2="357" stroke="#fff" stroke-width="1.1"/>
<text x="361.20" y="370.50" transform="rotate(-45 361.20 370.50)" font-family="Liberation Sans, sans-serif" font-size="14.4" fill="#fff" text-anchor="end" textLength="57" lengthAdjust="spacingAndGlyphs">2025-10</text>
<line x1="388.5" y1="351.5" x2="388.5" y2="357" stroke="#fff" stroke-width="1.1"/>
<text x="385.20" y="370.50" transform="rotate(-45 385.20 370.50)" font-family="Liberation Sans, sans-serif" font-size="14.4" fill="#fff" text-anchor="end" textLength="57" lengthAdjust="spacingAndGlyphs">2025-11</text>
<line x1="411.5" y1="351.5" x2="411.5" y2="357" stroke="#fff" stroke-width="1.1"/>
<text x="408.20" y="370.50" transform="rotate(-45 408.20 370.50)" font-family="Liberation Sans, sans-serif" font-size="14.4" fill="#fff" text-anchor="end" textLength="57" lengthAdjust="spacingAndGlyphs">2025-12</text>
<line x1="435.5" y1="351.5" x2="435.5" y2="357" stroke="#fff" stroke-width="1.1"/>
<text x="432.20" y="370.50" transform="rotate(-45 432.20 370.50)" font-family="Liberation Sans, sans-serif" font-size="14.4" fill="#fff" text-anchor="end" textLength="57" lengthAdjust="spacingAndGlyphs">2026-01</text>
<line x1="459.5" y1="351.5" x2="459.5" y2="357" stroke="#fff" stroke-width="1.1"/>
<text x="456.20" y="370.50" transform="rotate(-45 456.20 370.50)" font-family="Liberation Sans, sans-serif" font-size="14.4" fill="#fff" text-anchor="end" textLength="57" lengthAdjust="spacingAndGlyphs">2026-02</text>
<line x1="481.5" y1="351.5" x2="481.5" y2="357" stroke="#fff" stroke-width="1.1"/>
<text x="478.20" y="370.50" transform="rotate(-45 478.20 370.50)" font-family="Liberation Sans, sans-serif" font-size="14.4" fill="#fff" text-anchor="end" textLength="57" lengthAdjust="spacingAndGlyphs">2026-03</text>
<line x1="505.5" y1="351.5" x2="505.5" y2="357" stroke="#fff" stroke-width="1.1"/>
<text x="502.20" y="370.50" transform="rotate(-45 502.20 370.50)" font-family="Liberation Sans, sans-serif" font-size="14.4" fill="#fff" text-anchor="end" textLength="57" lengthAdjust="spacingAndGlyphs">2026-04</text>
<line x1="528.5" y1="351.5" x2="528.5" y2="357" stroke="#fff" stroke-width="1.1"/>
<text x="525.20" y="370.50" transform="rotate(-45 525.20 370.50)" font-family="Liberation Sans, sans-serif" font-size="14.4" fill="#fff" text-anchor="end" textLength="57" lengthAdjust="spacingAndGlyphs">2026-05</text>
<line x1="552.5" y1="351.5" x2="552.5" y2="357" stroke="#fff" stroke-width="1.1"/>
<text x="549.20" y="370.50" transform="rotate(-45 549.20 370.50)" font-family="Liberation Sans, sans-serif" font-size="14.4" fill="#fff" text-anchor="end" textLength="57" lengthAdjust="spacingAndGlyphs">2026-06</text>
<line x1="576.5" y1="351.5" x2="576.5" y2="357" stroke="#fff" stroke-width="1.1"/>
<text x="573.20" y="370.50" transform="rotate(-45 573.20 370.50)" font-family="Liberation Sans, sans-serif" font-size="14.4" fill="#fff" text-anchor="end" textLength="57" lengthAdjust="spacingAndGlyphs">2026-07</text>
<line x1="600.5" y1="351.5" x2="600.5" y2="357" stroke="#fff" stroke-width="1.1"/>
<text x="597.20" y="370.50" transform="rotate(-45 597.20 370.50)" font-family="Liberation Sans, sans-serif" font-size="14.4" fill="#fff" text-anchor="end" textLength="57" lengthAdjust="spacingAndGlyphs">2026-08</text>
<line x1="624.5" y1="351.5" x2="624.5" y2="357" stroke="#fff" stroke-width="1.1"/>
<text x="621.20" y="370.50" transform="rotate(-45 621.20 370.50)" font-family="Liberation Sans, sans-serif" font-size="14.4" fill="#fff" text-anchor="end" textLength="57" lengthAdjust="spacingAndGlyphs">2026-09</text>
<text x="21" y="204.8" transform="rotate(-90 21 204.8)" font-family="Liberation Sans, sans-serif" font-size="14.4" fill="#fff" text-anchor="middle" textLength="33" lengthAdjust="spacingAndGlyphs">Price</text>
<text x="677.5" y="203.8" transform="rotate(-90 677.5 203.8)" font-family="Liberation Sans, sans-serif" font-size="14.4" fill="#fff" text-anchor="middle" textLength="45.5" lengthAdjust="spacingAndGlyphs">Return</text>
<text x="357.8" y="24.6" font-family="Liberation Sans, sans-serif" font-size="18.6" fill="#fff" text-anchor="middle" textLength="172" lengthAdjust="spacingAndGlyphs">cnindex [399360.SZ]</text>
<rect x="81.5" y="58.5" width="144" height="45.8" rx="2.5" fill="#000" stroke="#cccccc" stroke-width="1.1"/>
<line x1="85.8" y1="69.4" x2="116.5" y2="69.4" stroke="#ff00ff" stroke-width="2.8"/>
<line x1="85.8" y1="90.5" x2="116.5" y2="90.5" stroke="#00ffff" stroke-width="2.8"/>
<text x="126" y="75" font-family="Liberation Sans, sans-serif" font-size="15" fill="#fff" textLength="76" lengthAdjust="spacingAndGlyphs">AI Strategy</text>
<text x="126" y="95.8" font-family="Liberation Sans, sans-serif" font-size="15" fill="#fff" textLength="92.5" lengthAdjust="spacingAndGlyphs">Buy-and-Hold</text>
</svg>
</body></html>
